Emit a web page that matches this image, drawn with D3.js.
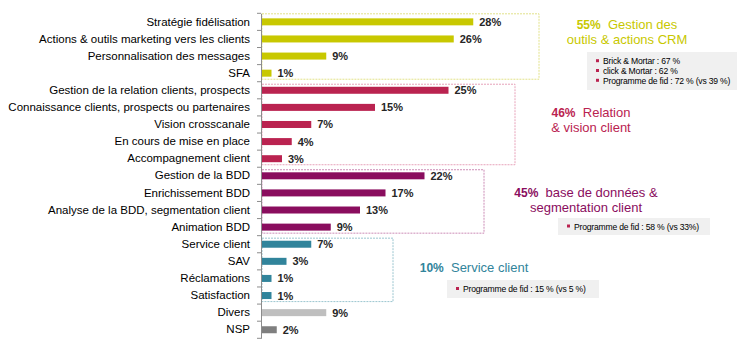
<!DOCTYPE html>
<html><head><meta charset="utf-8">
<script src="https://cdn.jsdelivr.net/npm/d3@7"></script>
<style>body{margin:0;background:#fff}svg{display:block;font-family:"Liberation Sans",Arial,sans-serif}</style>
</head><body><svg id="c" width="737" height="346"></svg>
<script>
const categories = ["Stratégie fidélisation","Actions & outils marketing vers les clients","Personnalisation des messages","SFA",
 "Gestion de la relation clients, prospects","Connaissance clients, prospects ou partenaires","Vision crosscanale","En cours de mise en place","Accompagnement client",
 "Gestion de la BDD","Enrichissement BDD","Analyse de la BDD, segmentation client","Animation BDD",
 "Service client","SAV","Réclamations","Satisfaction","Divers","NSP"];
const values = [28.3,25.7,8.7,1.4, 25.0,15.2,6.7,4.1,2.8, 21.8,16.6,13.2,9.3, 6.7,3.4,1.4,1.4, 8.7,2.1];
const groupOf = [0,0,0,0, 1,1,1,1,1, 2,2,2,2, 3,3,3,3, 4,5];
const groupColors = ["#C8C800","#BA2350","#8A0D5E","#31849B","#BFBFBF","#7F7F7F"];
const boxColors = ["#E2E28A","#E7A3BA","#CC8CB6","#9CC6D0"];
const groupTitles = [
  {pct:"55%", l1:"Gestion des", l2:"outils & actions CRM"},
  {pct:"46%", l1:"Relation", l2:"& vision client"},
  {pct:"45%", l1:"base de données &", l2:"segmentation client"},
  {pct:"10%", l1:"Service client", l2:""}
];
const groupNotes = [
  ["Brick & Mortar : 67 %","click & Mortar : 62 %","Programme de fid : 72 % (vs 39 %)"],
  [],
  ["Programme de fid : 58 % (vs 33%)"],
  ["Programme de fid : 15 % (vs 5 %)"]
];

const svg = d3.select("#c");
const x0 = 261;
const x = d3.scaleLinear().domain([0, 30]).range([x0, x0 + 225]);
const y = d3.scaleBand().domain(categories).range([13.3, 338.3]).paddingInner(0).paddingOuter(0);
const bh = 7;

// boxes
const boxRight = [539, 515, 484, 393];
[0,1,2,3].forEach(g => {
  const cats = categories.filter((c,i) => groupOf[i] === g);
  const top = y(cats[0]) + (g === 0 ? 0.5 : 2.5);
  const bot = y(cats[cats.length-1]) + y.step() - 2.5;
  svg.append("rect").attr("x", x0 + 1).attr("y", top).attr("width", boxRight[g] - x0 - 1).attr("height", bot - top)
    .attr("fill", "none").attr("stroke", boxColors[g]).attr("stroke-width", 1).attr("stroke-dasharray", "2,1");
});

// bars
svg.selectAll("rect.bar").data(values).join("rect").attr("class","bar")
  .attr("x", x(0)).attr("y", (d,i) => y(categories[i]) + (y.step() - bh)/2)
  .attr("width", d => x(d) - x(0)).attr("height", bh)
  .attr("fill", (d,i) => groupColors[groupOf[i]]);

// value labels
svg.selectAll("text.val").data(values).join("text").attr("class","val")
  .attr("x", d => x(d) + 6).attr("y", (d,i) => y(categories[i]) + y.step()/2 + 4)
  .attr("font-size", 11).attr("font-weight", "bold").attr("fill", "#262626")
  .text(d => Math.round(d) + "%");

// axis
const ax = svg.append("g").attr("transform", `translate(${x0},0)`).call(d3.axisLeft(y).tickSize(0).tickPadding(11));
ax.select(".domain").attr("stroke", "#8C8C8C");
ax.selectAll("text").attr("font-size", 11.5).attr("fill", "#000").attr("font-family", "'Liberation Sans',Arial,sans-serif");
const bounds = categories.map(c => y(c)).concat([y.range()[1]]);
svg.selectAll("line.tk").data(bounds).join("line").attr("class","tk")
  .attr("x1", x0 - 4).attr("x2", x0).attr("y1", d => d).attr("y2", d => d).attr("stroke", "#8C8C8C");

// annotations
const titlePos = [[627, 29], [591, 117], [586, 197], [474, 272]];
titlePos.forEach((p, g) => {
  const t = groupTitles[g];
  const txt = svg.append("text").attr("x", p[0]).attr("y", p[1]).attr("text-anchor", "middle")
    .attr("fill", groupColors[g]).attr("font-size", 13);
  txt.append("tspan").attr("font-weight", "bold").attr("font-size", 12).text(t.pct);
  txt.append("tspan").text("\u00a0\u00a0" + t.l1);
  if (t.l2) svg.append("text").attr("x", p[0]).attr("y", p[1] + 15).attr("text-anchor", "middle")
    .attr("fill", groupColors[g]).attr("font-size", 13).text(t.l2);
});

const noteBoxes = [[587, 52, 150, 38], null, [558, 218, 152, 17], [447, 280, 152, 18]];
noteBoxes.forEach((b, g) => {
  if (!b) return;
  svg.append("rect").attr("x", b[0]).attr("y", b[1]).attr("width", b[2]).attr("height", b[3]).attr("fill", "#F0F0F0");
  const n = groupNotes[g];
  const y0 = b[1] + b[3]/2 - (n.length - 1) * 9.8 / 2;
  n.forEach((s, k) => {
    const yy = y0 + k * 9.8;
    svg.append("rect").attr("x", b[0] + 9).attr("y", yy - 2).attr("width", 3).attr("height", 3).attr("fill", "#BA2350");
    svg.append("text").attr("x", b[0] + 16).attr("y", yy + 3.2).attr("font-size", 8.6).attr("letter-spacing", -0.2)
      .attr("fill", "#000").text(s);
  });
});
</script></body></html>
